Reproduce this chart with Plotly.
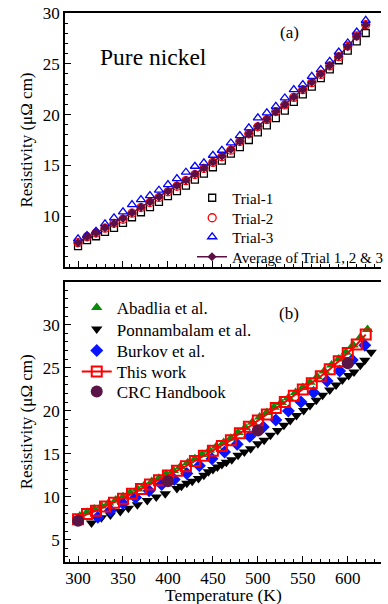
import plotly.graph_objects as go

# ---------------- data ----------------
temps = [300, 310, 320, 330, 340, 350, 360, 370, 380, 390, 400, 410, 420, 430, 440, 450,
         460, 470, 480, 490, 500, 510, 520, 530, 540, 550, 560, 570, 580, 590, 600, 610, 620]

trial1 = [7.05, 7.64, 8.03, 8.46, 8.85, 9.34, 9.90, 10.39, 10.89, 11.41, 11.97, 12.46, 13.02,
          13.61, 14.20, 14.82, 15.48, 16.16, 16.80, 17.50, 18.25, 18.95, 19.65, 20.40, 21.25,
          22.00, 22.75, 23.60, 24.45, 25.35, 26.30, 27.20, 28.03]
trial2 = [7.40, 7.98, 8.35, 8.82, 9.30, 9.70, 10.30, 10.85, 11.35, 11.85, 12.40, 12.95, 13.50,
          14.10, 14.70, 15.30, 15.85, 16.50, 17.35, 18.10, 18.80, 19.50, 20.30, 20.95, 21.70,
          22.45, 23.15, 23.95, 24.80, 25.70, 26.75, 27.75, 28.85]
trial3 = [7.77, 8.10, 8.52, 9.25, 9.84, 10.43, 11.15, 11.64, 12.03, 12.56, 13.11, 13.70, 14.33,
          14.92, 15.25, 16.00, 16.49, 17.21, 17.94, 18.70, 19.68, 20.17, 20.82, 21.64, 22.46,
          22.95, 23.77, 24.43, 25.24, 26.16, 27.05, 28.13, 29.27]
average = [7.38, 7.97, 8.36, 8.85, 9.28, 9.77, 10.33, 10.89, 11.41, 11.90, 12.46, 13.02, 13.54,
           14.16, 14.75, 15.34, 15.90, 16.56, 17.38, 18.13, 18.87, 19.56, 20.30, 21.00, 21.74,
           22.46, 23.18, 24.00, 24.82, 25.74, 26.70, 27.70, 28.85]

abadlia_t = [302, 310, 318, 326, 334, 342, 350, 358, 366, 374, 382, 390, 398, 406, 414, 422,
             430, 438, 446, 454, 462, 470, 478, 486, 494, 502, 510, 518, 526, 534, 542, 550,
             558, 566, 574, 582, 590, 598, 606, 614, 622]
abadlia_r = [7.75, 8.20, 8.55, 8.90, 9.25, 9.60, 10.00, 10.45, 10.90, 11.35, 11.75, 12.15, 12.60,
             13.05, 13.50, 13.95, 14.40, 14.90, 15.40, 15.85, 16.30, 16.80, 17.45, 18.05, 18.65,
             19.25, 19.80, 20.40, 20.95, 21.50, 22.10, 22.70, 23.30, 23.95, 24.60, 25.30, 26.00,
             26.80, 27.65, 28.50, 29.45]

ponn_t = [315, 326, 336, 347, 356, 366, 377, 387, 397, 410, 415, 421, 427, 434, 440, 445, 450,
          455, 460, 465, 471, 478, 485, 492, 500, 507, 514, 522, 529, 536, 543, 551, 558, 565,
          572, 580, 587, 594, 601, 607, 614, 619, 626]
ponn_r = [6.95, 7.55, 7.88, 8.28, 8.65, 9.05, 9.55, 9.95, 10.35, 10.95, 11.20, 11.55, 11.80,
          12.10, 12.50, 12.90, 13.15, 13.45, 13.75, 14.00, 14.30, 14.80, 15.20, 15.58, 16.16,
          16.55, 17.13, 17.70, 18.30, 18.87, 19.45, 20.03, 20.60, 21.20, 21.80, 22.40, 22.98,
          23.56, 24.10, 24.50, 25.28, 25.86, 26.80]

burkov_t = [322, 336, 350, 364, 379, 393, 407, 421, 435, 449, 463, 477, 491, 506, 520, 534, 548,
            562, 577, 591, 605, 619]
burkov_r = [7.60, 8.40, 9.20, 9.90, 10.70, 11.40, 12.00, 12.70, 13.60, 14.40, 15.20, 16.10,
            17.00, 18.10, 18.90, 19.95, 21.00, 22.10, 23.45, 24.60, 25.90, 27.60]

crc_t = [300, 400, 500, 600]
crc_r = [7.2, 11.8, 17.7, 25.5]

top_ticks = [10, 15, 20, 25, 30]
bottom_ticks = [5, 10, 15, 20, 25, 30]
x_ticks = [300, 350, 400, 450, 500, 550, 600]

# ---------------- figure ----------------
FONT = "Liberation Serif"
MAROON = "#5b0f45"

fig = go.Figure()

# top panel (a)
fig.add_trace(go.Scatter(x=temps, y=trial1, mode="markers", name="Trial-1",
                         xaxis="x2", yaxis="y2", legend="legend",
                         marker=dict(symbol="square-open", size=7, color="black",
                                     line=dict(width=1.3))))
fig.add_trace(go.Scatter(x=temps, y=trial2, mode="markers", name="Trial-2",
                         xaxis="x2", yaxis="y2", legend="legend2",
                         marker=dict(symbol="circle-open", size=8, color="red",
                                     line=dict(width=1.3))))
fig.add_trace(go.Scatter(x=temps, y=trial3, mode="markers", name="Trial-3",
                         xaxis="x2", yaxis="y2", legend="legend3",
                         marker=dict(symbol="triangle-up-open", size=8, color="blue",
                                     line=dict(width=1.3))))
fig.add_trace(go.Scatter(x=temps, y=average, mode="lines+markers",
                         name="Average of Trial 1, 2 & 3",
                         xaxis="x2", yaxis="y2", legend="legend4",
                         line=dict(color=MAROON, width=1.5),
                         marker=dict(symbol="diamond", size=7, color=MAROON)))

# bottom panel (b)
fig.add_trace(go.Scatter(x=abadlia_t, y=abadlia_r, mode="markers", name="Abadlia et al.",
                         xaxis="x", yaxis="y", legend="legend5",
                         marker=dict(symbol="triangle-up", size=10, color="#0a8a0a")))
fig.add_trace(go.Scatter(x=ponn_t, y=ponn_r, mode="markers", name="Ponnambalam et al.",
                         xaxis="x", yaxis="y", legend="legend6",
                         marker=dict(symbol="triangle-down", size=10, color="black")))
fig.add_trace(go.Scatter(x=burkov_t, y=burkov_r, mode="markers", name="Burkov et al.",
                         xaxis="x", yaxis="y", legend="legend7",
                         marker=dict(symbol="diamond", size=10, color="#0a14ff")))
fig.add_trace(go.Scatter(x=temps, y=average, mode="lines+markers", name="This work",
                         xaxis="x", yaxis="y", legend="legend8",
                         line=dict(color="red", width=2),
                         marker=dict(symbol="square-open", size=10, color="red",
                                     line=dict(width=2))))
fig.add_trace(go.Scatter(x=crc_t, y=crc_r, mode="markers", name="CRC Handbook",
                         xaxis="x", yaxis="y", legend="legend9",
                         marker=dict(symbol="circle", size=12, color="#5a1448")))

axis_common = dict(
    showline=True, linecolor="black", linewidth=1.5,
    ticks="inside", ticklen=6, tickwidth=1, tickcolor="black",
    showgrid=False, zeroline=False,
    tickfont=dict(family=FONT, size=17, color="black"),
)

xr = [285.5, 637]
fig.update_layout(
    width=388, height=604,
    margin=dict(l=65, r=0, t=13, b=42),
    plot_bgcolor="white", paper_bgcolor="white",
    font=dict(family=FONT, color="black"),
    showlegend=True,
    xaxis=dict(**axis_common, mirror=True, range=xr, tickmode="array", tickvals=x_ticks,
               anchor="y",
               minor=dict(tickmode="linear", tick0=300, dtick=10, ticks="inside",
                          ticklen=3, tickcolor="black")),
    xaxis2=dict(**axis_common, mirror=True, range=xr, tickmode="array", tickvals=x_ticks,
                anchor="y2", matches="x", showticklabels=False,
                minor=dict(tickmode="linear", tick0=300, dtick=10, ticks="inside",
                           ticklen=3, tickcolor="black")),
    yaxis=dict(**axis_common, mirror=False, range=[2.4, 35], tickmode="array",
               tickvals=bottom_ticks, domain=[0, 0.5106], anchor="x",
               minor=dict(tickmode="linear", tick0=0, dtick=1, ticks="inside",
                          ticklen=3, tickcolor="black"),
               title=dict(text="Resistivity (μΩ cm)", font=dict(family=FONT, size=17),
                          standoff=6)),
    yaxis2=dict(**axis_common, mirror=False, range=[5, 30], tickmode="array",
                tickvals=top_ticks, domain=[0.5373, 1], anchor="x2",
                minor=dict(tickmode="linear", tick0=0, dtick=1, ticks="inside",
                           ticklen=3, tickcolor="black"),
                title=dict(text="Resistivity (μΩ cm)", font=dict(family=FONT, size=17),
                           standoff=6)),
)

# one legend per entry so the row spacing matches the reference
W = 388 - 65
H = 604 - 13 - 42
def lg(px, py, size):
    return dict(x=(px - 65) / W, y=(562 - py) / H, xanchor="left", yanchor="middle",
                bgcolor="rgba(0,0,0,0)", font=dict(family=FONT, size=size, color="black"),
                itemwidth=30)

top_rows = [198, 218, 237, 257]
bottom_rows = [308, 329.5, 351, 372, 392]
layout_leg = {}
names = ["legend", "legend2", "legend3", "legend4"]
for n, py in zip(names, top_rows):
    layout_leg[n] = lg(195, py, 15)
for i, py in enumerate(bottom_rows):
    layout_leg["legend%d" % (i + 5)] = lg(77, py, 17)
fig.update_layout(**layout_leg)

fig.add_annotation(x=384, y=25.7, xref="x2", yref="y2", text="Pure nickel",
                   showarrow=False, font=dict(family=FONT, size=23.5, color="black"))
fig.add_annotation(x=535, y=28.05, xref="x2", yref="y2", text="(a)",
                   showarrow=False, font=dict(family=FONT, size=17, color="black"))
fig.add_annotation(x=535, y=31.3, xref="x", yref="y", text="(b)",
                   showarrow=False, font=dict(family=FONT, size=17, color="black"))
# x-axis title, placed like the reference just above the page edge
fig.add_annotation(x=0.5, y=(562 - 595) / H, xref="paper", yref="paper",
                   text="Temperature (K)", showarrow=False, yanchor="middle",
                   font=dict(family=FONT, size=17.5, color="black"))

fig.write_html("out.html")
